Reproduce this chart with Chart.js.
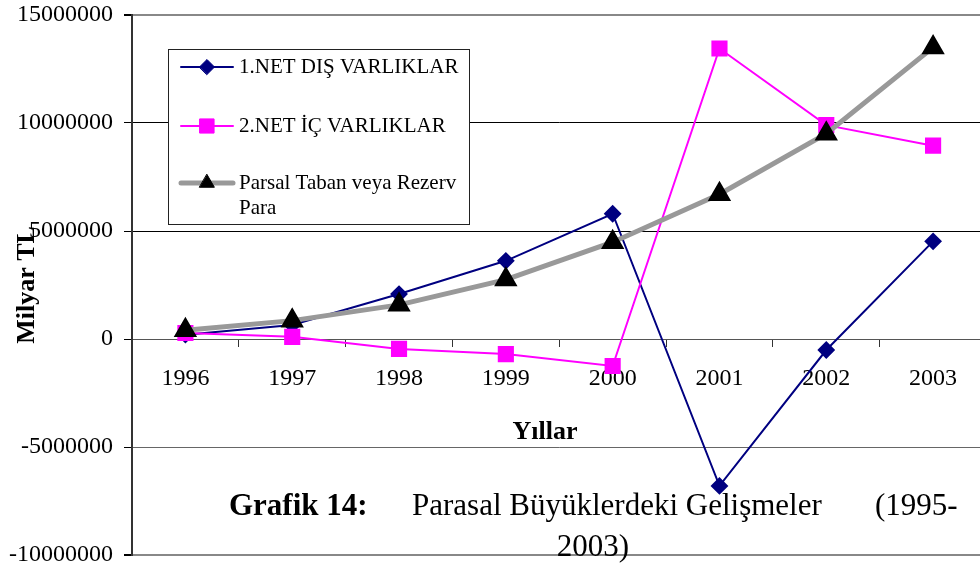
<!DOCTYPE html>
<html>
<head>
<meta charset="utf-8">
<script src="https://cdn.jsdelivr.net/npm/chart.js@4.4.0/dist/chart.umd.min.js"></script>
<style>
    html, body { margin: 0; padding: 0; background: #fff; overflow: hidden; }
    canvas { display: block; }
</style>
</head>
<body>
<canvas id="grafik" width="1000" height="570"></canvas>
<script>
// veriler (grafikten okunan yaklaşık değerler, milyar TL)
const years = ['1996', '1997', '1998', '1999', '2000', '2001', '2002', '2003'];
const netDisVarliklar = [200000, 650000, 2080000, 3620000, 5800000, -6800000, -510000, 4520000];
const netIcVarliklar = [280000, 100000, -460000, -700000, -1250000, 13450000, 9900000, 8950000];
const rezervPara = [400000, 850000, 1580000, 2750000, 4480000, 6700000, 9500000, 13500000];
const yTicks = [-10000000, -5000000, 0, 5000000, 10000000, 15000000];

const SERIF = '"Liberation Serif", "Times New Roman", serif';

// legend kutusu ve başlıklar elle çiziliyor (Excel görünümü için)
const decorPlugin = {
    id: 'decor',
    afterDraw(chart) {
        const ctx = chart.ctx;
        const area = chart.chartArea;
        ctx.save();

        // legend
        const bx = 168, by = 49, bw = 301, bh = 175;
        ctx.fillStyle = '#fff';
        ctx.fillRect(bx, by, bw, bh);
        ctx.strokeStyle = '#222';
        ctx.lineWidth = 1;
        ctx.strokeRect(bx + 0.5, by + 0.5, bw, bh);

        const rowY = [67, 126, 183];
        ctx.font = '21px ' + SERIF;
        ctx.textBaseline = 'middle';
        chart.data.datasets.forEach((ds, i) => {
            const y = rowY[i];
            ctx.beginPath();
            ctx.strokeStyle = ds.borderColor;
            ctx.lineWidth = ds.borderWidth;
            ctx.lineCap = 'round';
            ctx.moveTo(181, y);
            ctx.lineTo(233, y);
            ctx.stroke();
            ctx.fillStyle = ds.pointBackgroundColor;
            ctx.strokeStyle = ds.pointBorderColor;
            ctx.lineWidth = 1;
            Chart.helpers.drawPoint(ctx, {
                pointStyle: ds.pointStyle,
                radius: ds.pointRadius,
                borderWidth: 1
            }, 207, y);

            // kelime kaydırma
            const words = ds.label.split(' ');
            const lines = [];
            let cur = '';
            words.forEach(w => {
                const t = cur ? cur + ' ' + w : w;
                if (ctx.measureText(t).width > 224 && cur) {
                    lines.push(cur);
                    cur = w;
                } else {
                    cur = t;
                }
            });
            lines.push(cur);
            ctx.fillStyle = '#000';
            ctx.textAlign = 'left';
            lines.forEach((l, k) => ctx.fillText(l, 239, y + k * 25));
        });

        // eksen başlıkları
        ctx.fillStyle = '#000';
        ctx.font = 'bold 26px ' + SERIF;
        ctx.textAlign = 'center';
        ctx.textBaseline = 'middle';
        ctx.fillText('Yıllar', 545, 432);

        ctx.save();
        ctx.translate(27, (area.top + area.bottom) / 2);
        ctx.rotate(-Math.PI / 2);
        ctx.fillText('Milyar TL', 0, 0);
        ctx.restore();

        // grafik başlığı
        ctx.textBaseline = 'alphabetic';
        ctx.textAlign = 'left';
        ctx.font = 'bold 31px ' + SERIF;
        ctx.fillText('Grafik 14:', 229, 515);
        ctx.font = '31px ' + SERIF;
        ctx.fillText('Parasal Büyüklerdeki Gelişmeler', 412, 515);
        ctx.fillText('(1995-', 875, 515);
        ctx.textAlign = 'center';
        ctx.fillText('2003)', 593, 556);

        ctx.restore();
    }
};

const ctx = document.getElementById('grafik').getContext('2d');
new Chart(ctx, {
    type: 'line',
    data: {
        labels: years,
        datasets: [
            {
                label: '1.NET DIŞ VARLIKLAR',
                data: netDisVarliklar,
                borderColor: '#000080',
                borderWidth: 2,
                pointStyle: 'rectRot',
                pointRadius: 7.5,
                pointBackgroundColor: '#000080',
                pointBorderColor: '#000080',
                order: 3
            },
            {
                label: '2.NET İÇ VARLIKLAR',
                data: netIcVarliklar,
                borderColor: '#ff00ff',
                borderWidth: 2,
                pointStyle: 'rect',
                pointRadius: 10,
                pointBackgroundColor: '#ff00ff',
                pointBorderColor: '#ff00ff',
                order: 2
            },
            {
                label: 'Parsal Taban veya Rezerv Para',
                data: rezervPara,
                borderColor: '#999999',
                borderWidth: 5,
                pointStyle: 'triangle',
                pointRadius: 8.5,
                pointBackgroundColor: '#000',
                pointBorderColor: '#000',
                order: 1
            }
        ]
    },
    options: {
        responsive: false,
        animation: false,
        events: [],
        layout: { padding: { top: 15, bottom: 15, left: 0, right: 12 } },
        elements: { line: { tension: 0 }, point: { borderWidth: 1 } },
        plugins: {
            legend: { display: false },
            title: { display: false },
            tooltip: { enabled: false }
        },
        scales: {
            x: {
                position: { y: 0 },
                offset: true,
                afterFit(scale) { scale.paddingLeft = 0; scale.paddingRight = 0; },
                grid: {
                    offset: true,
                    drawOnChartArea: false,
                    drawTicks: true,
                    tickLength: 7,
                    tickColor: '#333'
                },
                border: { display: true, color: '#555', width: 1 },
                ticks: {
                    color: '#000',
                    padding: 18,
                    maxRotation: 0,
                    font: { family: SERIF, size: 24 }
                }
            },
            y: {
                min: -10000000,
                max: 15000000,
                afterFit(scale) {
                    scale.width = 132;
                    scale.paddingTop = 0;
                    scale.paddingBottom = 0;
                },
                afterBuildTicks(scale) { scale.ticks = yTicks.map(v => ({ value: v })); },
                grid: {
                    color: c => {
                        const v = c.tick ? c.tick.value : 0;
                        if (v === 15000000 || v === -10000000) return '#888';
                        return v > 0 ? '#000' : '#666';
                    },
                    lineWidth: c => {
                        const v = c.tick ? c.tick.value : 0;
                        return (v === 15000000 || v === -10000000) ? 2 : 1;
                    },
                    tickColor: '#000',
                    tickLength: 8
                },
                border: { display: true, color: '#333', width: 2 },
                ticks: {
                    color: '#000',
                    padding: 11,
                    font: { family: SERIF, size: 24 },
                    callback: v => String(v)
                }
            }
        }
    },
    plugins: [decorPlugin]
});
</script>
</body>
</html>
